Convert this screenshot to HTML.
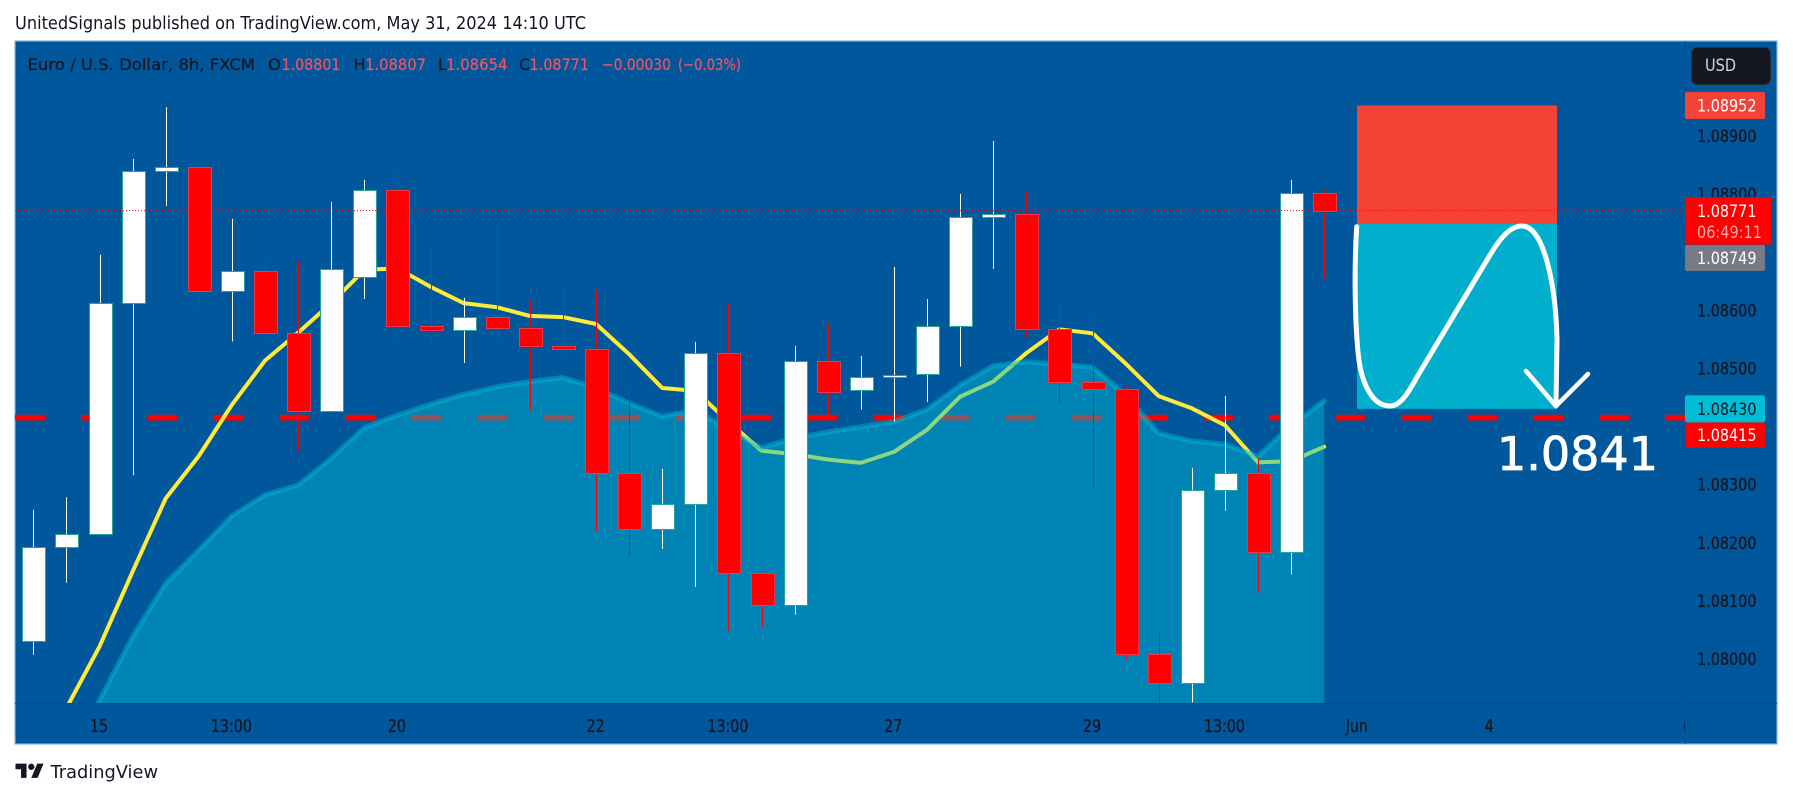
<!DOCTYPE html>
<html lang="en">
<head>
<meta charset="utf-8">
<title>EUR/USD 8h chart</title>
<style>
html,body{margin:0;padding:0;background:#fff;}
body{width:1793px;height:798px;overflow:hidden;}
svg{display:block;}
text{font-family:"DejaVu Sans","Liberation Sans",sans-serif;}
</style>
</head>
<body>
<svg id="chart" xmlns="http://www.w3.org/2000/svg" width="1793" height="798" viewBox="0 0 1793 798">
  <defs>
    <clipPath id="plot-clip"><rect x="15" y="41" width="1670" height="662"/></clipPath>
    <clipPath id="time-clip"><rect x="15" y="703" width="1670" height="41"/></clipPath>
  </defs>
  <text x="15" y="29" font-size="18" fill="#131722" textLength="571" lengthAdjust="spacingAndGlyphs">UnitedSignals published on TradingView.com, May 31, 2024 14:10 UTC</text>
  <rect x="15" y="41" width="1762" height="703" fill="#00579b" stroke="#8db2d2" stroke-width="1.2"/>
  <g id="plot" clip-path="url(#plot-clip)"></g>
  <line x1="1685.5" y1="41" x2="1685.5" y2="744" stroke="#004f8e" stroke-width="1"/>
  <line x1="15" y1="703.5" x2="1777" y2="703.5" stroke="#004f8e" stroke-width="1"/>
  <g id="time-axis" clip-path="url(#time-clip)"></g>
  <g id="price-axis"></g>
  <g font-size="16">
    <text x="27.5" y="70" fill="#131722" stroke="#131722" stroke-width="0.2" textLength="227.5" lengthAdjust="spacingAndGlyphs">Euro / U.S. Dollar, 8h, FXCM</text>
    <text x="268" y="70" fill="#131722" stroke="#131722" stroke-width="0.2" textLength="13" lengthAdjust="spacingAndGlyphs">O</text>
    <text x="281.5" y="70" fill="#f7525f" stroke="#f7525f" stroke-width="0.2" textLength="59" lengthAdjust="spacingAndGlyphs">1.08801</text>
    <text x="353.5" y="70" fill="#131722" stroke="#131722" stroke-width="0.2" textLength="12" lengthAdjust="spacingAndGlyphs">H</text>
    <text x="365" y="70" fill="#f7525f" stroke="#f7525f" stroke-width="0.2" textLength="61" lengthAdjust="spacingAndGlyphs">1.08807</text>
    <text x="438" y="70" fill="#131722" stroke="#131722" stroke-width="0.2">L</text>
    <text x="446" y="70" fill="#f7525f" stroke="#f7525f" stroke-width="0.2" textLength="61.5" lengthAdjust="spacingAndGlyphs">1.08654</text>
    <text x="519" y="70" fill="#131722" stroke="#131722" stroke-width="0.2" textLength="11" lengthAdjust="spacingAndGlyphs">C</text>
    <text x="529.5" y="70" fill="#f7525f" stroke="#f7525f" stroke-width="0.2" textLength="59.5" lengthAdjust="spacingAndGlyphs">1.08771</text>
    <text x="602" y="70" fill="#f7525f" stroke="#f7525f" stroke-width="0.2" textLength="69" lengthAdjust="spacingAndGlyphs">−0.00030</text>
    <text x="678" y="70" fill="#f7525f" stroke="#f7525f" stroke-width="0.2" textLength="63" lengthAdjust="spacingAndGlyphs">(−0.03%)</text>
  </g>
  <g>
    <rect x="1691.5" y="47.5" width="79" height="37" rx="6" fill="#131722" stroke="#2a2e39"/>
    <text x="1705" y="71" font-size="17" fill="#d1d4dc" textLength="31" lengthAdjust="spacingAndGlyphs">USD</text>
  </g>
  <g>
    <g transform="translate(15.5,760.5) scale(.79)" fill="#131722">
      <path d="M14 22H7V11H0V4h14v18zM28 22h-8l7.5-18h8L28 22z"/>
      <circle cx="20" cy="8" r="4"/>
    </g>
    <text x="50.5" y="778" font-size="18" fill="#131722" textLength="107.5" lengthAdjust="spacingAndGlyphs">TradingView</text>
  </g>
</svg>
<script>
var candleOpen = [1.08030,1.08192,1.08214,1.08612,1.08840,1.08847,1.08632,1.08668,1.08561,1.08427,1.08657,1.08806,1.08573,1.08565,1.08588,1.08570,1.08538,1.08533,1.08319,1.08224,1.08266,1.08526,1.08147,1.08092,1.08512,1.08462,1.08484,1.08490,1.08572,1.08760,1.08765,1.08567,1.08476,1.08464,1.08008,1.07959,1.08290,1.08319,1.08183,1.08801];
var candleHigh = [1.08256,1.08278,1.08695,1.08860,1.08949,1.08849,1.08757,1.08690,1.08683,1.08786,1.08824,1.08844,1.08707,1.08621,1.08748,1.08617,1.08635,1.08635,1.08471,1.08327,1.08545,1.08612,1.08150,1.08538,1.08577,1.08521,1.08674,1.08619,1.08800,1.08891,1.08803,1.08612,1.08588,1.08469,1.08046,1.08328,1.08452,1.08346,1.08824,1.08807];
var candleLow = [1.08007,1.08131,1.08214,1.08316,1.08779,1.08605,1.08546,1.08544,1.08358,1.08427,1.08619,1.08540,1.08543,1.08509,1.08547,1.08427,1.08523,1.08220,1.08176,1.08189,1.08124,1.08048,1.08055,1.08076,1.08414,1.08429,1.08408,1.08442,1.08503,1.08671,1.08552,1.08441,1.08292,1.07999,1.07925,1.07925,1.08255,1.08114,1.08145,1.08654];
var candleClose = [1.08192,1.08214,1.08612,1.08840,1.08847,1.08632,1.08668,1.08561,1.08427,1.08670,1.08806,1.08573,1.08565,1.08588,1.08570,1.08538,1.08533,1.08319,1.08224,1.08266,1.08526,1.08147,1.08092,1.08512,1.08459,1.08484,1.08489,1.08572,1.08760,1.08765,1.08567,1.08476,1.08464,1.08008,1.07959,1.08290,1.08319,1.08183,1.08801,1.08771];
var fastAverage = [1.07809,1.07915,1.08021,1.08150,1.08276,1.08349,1.08437,1.08513,1.08561,1.08612,1.08669,1.08672,1.08640,1.08612,1.08605,1.08590,1.08588,1.08576,1.08524,1.08466,1.08461,1.08408,1.08358,1.08352,1.08343,1.08337,1.08356,1.08394,1.08451,1.08477,1.08526,1.08567,1.08560,1.08508,1.08452,1.08431,1.08402,1.08338,1.08340,1.08365];
var slowAverage = [1.07706,1.07817,1.07929,1.08038,1.08130,1.08187,1.08246,1.08282,1.08299,1.08345,1.08398,1.08419,1.08438,1.08455,1.08468,1.08477,1.08484,1.08466,1.08440,1.08417,1.08428,1.08394,1.08363,1.08380,1.08390,1.08399,1.08408,1.08429,1.08471,1.08504,1.08511,1.08507,1.08502,1.08454,1.08388,1.08375,1.08369,1.08348,1.08402,1.08444];
var priceTickValues = [1.089,1.088,1.087,1.086,1.085,1.084,1.083,1.082,1.081,1.080];
var timeTickLabels = ['15','13:00','20','22','13:00','27','29','13:00','Jun','4','6'];
var timeTickBars = [2,6,11,17,21,26,32,36,40,44,50];
var supportLevel = 1.08415;
var lastPrice = 1.08771;
var stopLevel = 1.08952;
var entryLevel = 1.08749;
var targetLevel = 1.08430;
var NS = 'http://www.w3.org/2000/svg';

function xBar(i){ return 33.3 + 33.1 * i; }
function yPrice(p){ return 135.7 + (1.089 - p) * 58125; }

function make(tag, attrs, parent){
  var el = document.createElementNS(NS, tag);
  for (var k in attrs) el.setAttribute(k, attrs[k]);
  parent.appendChild(el);
  return el;
}

var plot = document.getElementById('plot');
var timeAxis = document.getElementById('time-axis');
var priceAxis = document.getElementById('price-axis');

// support dashed line
var support = make('line', {x1:15, x2:1685, y1:yPrice(supportLevel), y2:yPrice(supportLevel), stroke:'#ff0000', 'stroke-width':5.8, 'stroke-dasharray':'30 36'}, plot);



// fast average line
var fastPts = fastAverage.map(function(v,i){ return xBar(i).toFixed(1)+','+yPrice(v).toFixed(1); }).join(' ');
var fastLine = make('polyline', {points:fastPts, fill:'none', stroke:'#ffeb3b', 'stroke-width':4, 'stroke-linejoin':'round', 'stroke-linecap':'round'}, plot);



// slow average area
var slowPts = slowAverage.map(function(v,i){ return xBar(i).toFixed(1)+','+yPrice(v).toFixed(1); });
var areaPts = xBar(0).toFixed(1)+',703 ' + slowPts.join(' ') + ' ' + xBar(slowAverage.length-1).toFixed(1)+',703';
var slowArea = make('polygon', {points:areaPts, fill:'#00bcd4', 'fill-opacity':0.45}, plot);


var slowLine = make('polyline', {points:slowPts.join(' '), fill:'none', stroke:'#00bcd4', 'stroke-opacity':0.45, 'stroke-width':5, 'stroke-linejoin':'round', 'stroke-linecap':'round'}, plot);



// candles
candleOpen.forEach(function(o,i){
  var c = candleClose[i], h = candleHigh[i], l = candleLow[i];
  var up = c >= o;
  var px = Math.round(xBar(i));
  var g = make('g', {}, plot);
  
  
  var yT = Math.round(yPrice(Math.max(o,c)));
  var yB = Math.round(yPrice(Math.min(o,c)));
  var wick = make('rect', {x:px, y:yPrice(h), width:1, height:Math.max(yPrice(l)-yPrice(h),0), fill: up ? '#ffffff' : '#ff0000'}, g);
  
  
  var body = make('rect', {x:px-10.5, y:yT+0.5, width:23, height:Math.max(yB-yT,1), fill: up ? '#ffffff' : '#ff0000', stroke: up ? '#26a69a' : '#f23645', 'stroke-width':1}, g);
  
  
});

// position tool boxes
var stopBox = make('rect', {x:1357, y:yPrice(stopLevel), width:200, height:yPrice(entryLevel)-yPrice(stopLevel), fill:'#f44336'}, plot);


var targetBox = make('rect', {x:1357, y:yPrice(entryLevel), width:200, height:yPrice(targetLevel)-yPrice(entryLevel), fill:'#01afcc'}, plot);



// brush annotation
var curve = make('path', {d:'M1356.7 226.7C1354 270 1355 320 1358 352C1361 385 1373 406 1390 406C1403 406 1412 385 1420 372L1487 260C1497 243 1508 226 1522 226C1545 226 1556 290 1557 340L1556 406', fill:'none', stroke:'#ffffff', 'stroke-width':5, 'stroke-linecap':'round', 'stroke-linejoin':'round'}, plot);


var arrow = make('path', {d:'M1526 371L1556 406L1588 374', fill:'none', stroke:'#ffffff', 'stroke-width':4.5, 'stroke-linecap':'round', 'stroke-linejoin':'round'}, plot);



var target = make('text', {x:1497, y:470, 'font-size':46, fill:'#ffffff', stroke:'#ffffff', 'stroke-width':0.8}, plot);
target.textContent = '1.0841';



// last price dotted line
var lastLine = make('line', {x1:15, x2:1685, y1:yPrice(lastPrice), y2:yPrice(lastPrice), stroke:'#ff0000', 'stroke-width':1, 'stroke-dasharray':'1 2'}, plot);



// time axis
timeTickLabels.forEach(function(lbl,i){
  var t = make('text', {x:xBar(timeTickBars[i])-0.5, y:732, 'font-size':18, fill:'#131722', stroke:'#131722', 'stroke-width':0.25, 'text-anchor':'middle'}, timeAxis);
  t.textContent = lbl;
  
  
  t.setAttribute('textLength', (t.getComputedTextLength()*0.79).toFixed(1));
  t.setAttribute('lengthAdjust', 'spacingAndGlyphs');
});

// price axis ticks
priceTickValues.forEach(function(v){
  var t = make('text', {x:1697, y:yPrice(v)+6.2, 'font-size':17, fill:'#131722', textLength:59.5, lengthAdjust:'spacingAndGlyphs', stroke:'#131722', 'stroke-width':0.3}, priceAxis);
  t.textContent = v.toFixed(5);
  
  
});

// price tags: centerY is where the axis stacks the tag, so it can differ from the price position
function tag(v, centerY, h, fill, textFill, name){
  var r = make('rect', {x:1685, y:centerY-h/2, width:80, height:h, rx:2, fill:fill}, priceAxis);
  
  
  var t = make('text', {x:1697, y:centerY+6.2, 'font-size':17, fill:textFill, textLength:59.5, lengthAdjust:'spacingAndGlyphs'}, priceAxis);
  t.textContent = v.toFixed(5);
  
  
}
tag(stopLevel, yPrice(stopLevel), 27, '#f44336', '#ffffff', 'stop-price');
tag(entryLevel, 258, 26, '#787b86', '#ffffff', 'entry-price');
tag(targetLevel, yPrice(targetLevel), 27, '#00bcd4', '#131722', 'target-price');
tag(supportLevel, 435, 25, '#ff0000', '#ffffff', 'support-price');

var yLast = yPrice(lastPrice);
var lastBg = make('rect', {x:1685, y:yLast-13.5, width:86, height:47.5, rx:2, fill:'#ff0000'}, priceAxis);


var lastTxt = make('text', {x:1697, y:yLast+6.2, 'font-size':17, fill:'#ffffff', textLength:59.5, lengthAdjust:'spacingAndGlyphs'}, priceAxis);
lastTxt.textContent = lastPrice.toFixed(5);


var timer = make('text', {x:1697, y:yLast+27.2, 'font-size':17, fill:'#ffa6a6', textLength:65, lengthAdjust:'spacingAndGlyphs'}, priceAxis);
timer.textContent = '06:49:11';


</script>
</body>
</html>
